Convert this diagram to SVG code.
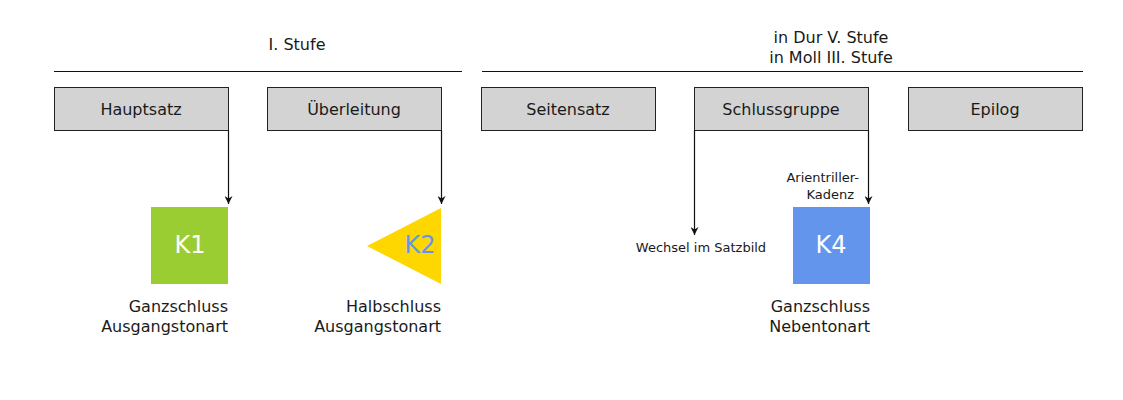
<svg xmlns="http://www.w3.org/2000/svg" width="1123" height="400" viewBox="0 0 1123 400">
<defs>
<style>
text{font-family:"DejaVu Sans",sans-serif;fill:#1a1a1a}
.t{font-size:16px}
.s{font-size:13px}
.box{fill:#d3d3d3;stroke:#222;stroke-width:1}
.k{font-size:24px;fill:#fff}
.c{stroke:#111;stroke-width:1.2;fill:none;marker-end:url(#ah)}
</style>
<marker id="ah" viewBox="0 0 10 10" refX="10" refY="5" markerWidth="8" markerHeight="8" markerUnits="userSpaceOnUse" orient="auto"><path d="M0,0 L10,5 L0,10 L3,5 z" fill="#111"/></marker>
</defs>
<rect width="1123" height="400" fill="#fff"/>
<g id="headers">
<text class="t" x="297" y="50" text-anchor="middle">I. Stufe</text>
<text class="t" x="831" y="43" text-anchor="middle">in Dur V. Stufe</text>
<text class="t" x="831" y="63" text-anchor="middle">in Moll III. Stufe</text>
<line x1="54" y1="71.5" x2="462" y2="71.5" stroke="#111" stroke-width="1.2"/>
<line x1="482" y1="71.5" x2="1083" y2="71.5" stroke="#111" stroke-width="1.2"/>
</g>
<g id="hauptsatz"><rect class="box" x="54.5" y="87.5" width="174" height="43"/><text class="t" x="141" y="115" text-anchor="middle">Hauptsatz</text></g>
<g id="ueberleitung"><rect class="box" x="267.5" y="87.5" width="174" height="43"/><text class="t" x="354" y="115" text-anchor="middle">Überleitung</text></g>
<g id="seitensatz"><rect class="box" x="481.5" y="87.5" width="174" height="43"/><text class="t" x="568" y="115" text-anchor="middle">Seitensatz</text></g>
<g id="schlussgruppe"><rect class="box" x="694.5" y="87.5" width="174" height="43"/><text class="t" x="781" y="115" text-anchor="middle">Schlussgruppe</text></g>
<g id="epilog"><rect class="box" x="908.5" y="87.5" width="174" height="43"/><text class="t" x="995" y="115" text-anchor="middle">Epilog</text></g>
<g id="k1"><rect x="151" y="207" width="77" height="77" fill="#9acd32"/><text class="k" x="190" y="253" text-anchor="middle">K1</text>
<text class="t" x="228" y="312" text-anchor="end">Ganzschluss</text><text class="t" x="228" y="332" text-anchor="end">Ausgangstonart</text></g>
<g id="k2"><polygon points="441,208 441,284 367,246" fill="#ffd700"/><text class="k" x="420" y="253" text-anchor="middle" style="fill:#6495ed">K2</text>
<text class="t" x="441" y="312" text-anchor="end">Halbschluss</text><text class="t" x="441" y="332" text-anchor="end">Ausgangstonart</text></g>
<g id="k4"><rect x="793" y="207" width="77" height="77" fill="#6495ed"/><text class="k" x="831" y="253" text-anchor="middle">K4</text>
<text class="t" x="870" y="312" text-anchor="end">Ganzschluss</text><text class="t" x="870" y="332" text-anchor="end">Nebentonart</text></g>
<g id="wechsel"><text class="s" x="701" y="252" text-anchor="middle">Wechsel im Satzbild</text></g>
<g id="connectors">
<line class="c" x1="228.5" y1="130" x2="228.5" y2="204"/>
<line class="c" x1="441.5" y1="130" x2="441.5" y2="204"/>
<line class="c" x1="694.5" y1="130" x2="694.5" y2="235"/>
<line class="c" x1="868.5" y1="130" x2="868.5" y2="204"/>
<text class="s" x="859" y="182" text-anchor="end">Arientriller-</text>
<text class="s" x="854" y="199" text-anchor="end">Kadenz</text>
</g>
</svg>
